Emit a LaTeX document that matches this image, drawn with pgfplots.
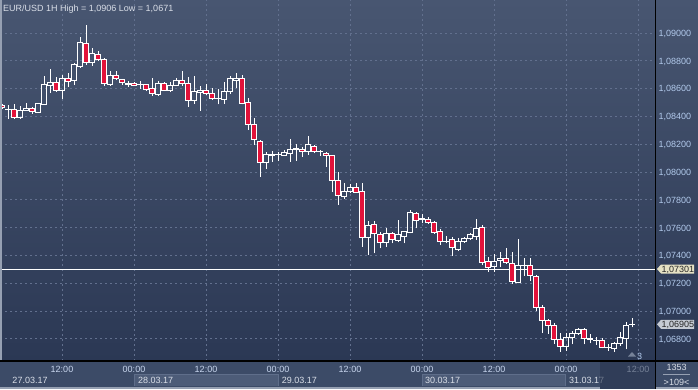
\documentclass[border=0pt]{standalone}
\usepackage{fontspec}
\setmainfont{Liberation Sans}
\usepackage{pgfplots}
\usepackage{pgfplotstable}
\pgfplotsset{compat=1.18}
\definecolor{bgtop}{RGB}{72,86,113}
\definecolor{bgbot}{RGB}{43,56,84}
\definecolor{gridc}{RGB}{98,112,142}
\definecolor{candlered}{RGB}{226,18,58}
\definecolor{panel}{RGB}{60,75,103}
\definecolor{datebox}{RGB}{77,92,120}
\definecolor{dateborder}{RGB}{95,110,138}
\definecolor{pricec}{RGB}{178,202,236}
\definecolor{timec}{RGB}{200,214,238}
\definecolor{timedim}{RGB}{118,130,152}
\definecolor{textc}{RGB}{218,223,232}
\definecolor{strip}{RGB}{150,160,178}
\definecolor{darkreg}{RGB}{40,52,78}
\definecolor{lastbox}{RGB}{198,203,212}
\definecolor{linebox}{RGB}{230,226,196}
\newcommand\nf{\fontsize{9pt}{10.8pt}\selectfont}

\pgfplotstableread{
h o hi lo c
2 1.08482 1.08490 1.08454 1.08461
3 1.08450 1.08482 1.08380 1.08452
4 1.08451 1.08490 1.08388 1.08391
5 1.08391 1.08475 1.08387 1.08446
6 1.08444 1.08495 1.08441 1.08459
7 1.08459 1.08470 1.08418 1.08434
8 1.08430 1.08499 1.08427 1.08495
9 1.08487 1.08691 1.08482 1.08631
10 1.08626 1.08739 1.08571 1.08643
11 1.08646 1.08686 1.08578 1.08585
12 1.08585 1.08698 1.08523 1.08674
13 1.08674 1.08710 1.08614 1.08650
14 1.08657 1.08782 1.08626 1.08770
15 1.08758 1.08969 1.08753 1.08933
16 1.08926 1.09058 1.08770 1.08787
17 1.08787 1.08890 1.08763 1.08854
18 1.08847 1.08871 1.08799 1.08811
19 1.08811 1.08820 1.08619 1.08637
20 1.08633 1.08727 1.08619 1.08692
21 1.08691 1.08727 1.08662 1.08674
22 1.08669 1.08672 1.08626 1.08646
23 1.08633 1.08657 1.08610 1.08634
24 1.08638 1.08648 1.08619 1.08624
25 1.08630 1.08657 1.08597 1.08631
26 1.08631 1.08633 1.08583 1.08595
27 1.08602 1.08676 1.08547 1.08563
28 1.08561 1.08653 1.08547 1.08638
29 1.08638 1.08646 1.08583 1.08588
30 1.08590 1.08650 1.08578 1.08626
31 1.08626 1.08679 1.08619 1.08662
32 1.08662 1.08729 1.08619 1.08638
33 1.08638 1.08684 1.08470 1.08518
34 1.08513 1.08691 1.08490 1.08579
35 1.08573 1.08619 1.08441 1.08590
36 1.08590 1.08631 1.08554 1.08566
37 1.08566 1.08602 1.08518 1.08530
38 1.08528 1.08594 1.08486 1.08530
39 1.08523 1.08648 1.08490 1.08579
40 1.08579 1.08694 1.08565 1.08673
41 1.08655 1.08712 1.08605 1.08673
42 1.08673 1.08698 1.08487 1.08495
43 1.08502 1.08530 1.08303 1.08339
44 1.08344 1.08387 1.08195 1.08231
45 1.08218 1.08231 1.07967 1.08070
46 1.08070 1.08146 1.08022 1.08123
47 1.08121 1.08151 1.08075 1.08123
48 1.08123 1.08146 1.08082 1.08125
49 1.08121 1.08159 1.08116 1.08139
50 1.08135 1.08238 1.08075 1.08159
51 1.08159 1.08202 1.08082 1.08171
52 1.08164 1.08182 1.08111 1.08149
53 1.08151 1.08259 1.08123 1.08195
54 1.08187 1.08195 1.08135 1.08151
55 1.08146 1.08159 1.08118 1.08148
56 1.08135 1.08146 1.08039 1.08121
57 1.08121 1.08123 1.07859 1.07938
58 1.07938 1.08003 1.07764 1.07833
59 1.07828 1.07924 1.07806 1.07864
60 1.07859 1.07914 1.07852 1.07891
61 1.07891 1.07919 1.07848 1.07855
62 1.07859 1.07919 1.07464 1.07531
63 1.07531 1.07648 1.07404 1.07615
64 1.07620 1.07648 1.07416 1.07555
65 1.07548 1.07571 1.07452 1.07495
66 1.07495 1.07600 1.07464 1.07555
67 1.07555 1.07567 1.07488 1.07512
68 1.07507 1.07656 1.07495 1.07548
69 1.07540 1.07576 1.07488 1.07571
70 1.07567 1.07727 1.07560 1.07708
71 1.07704 1.07711 1.07596 1.07651
72 1.07661 1.07696 1.07632 1.07663
73 1.07660 1.07675 1.07627 1.07639
74 1.07639 1.07651 1.07560 1.07564
75 1.07571 1.07591 1.07476 1.07499
76 1.07503 1.07540 1.07488 1.07504
77 1.07512 1.07535 1.07399 1.07456
78 1.07445 1.07524 1.07435 1.07504
79 1.07499 1.07531 1.07495 1.07524
80 1.07519 1.07564 1.07512 1.07548
81 1.07535 1.07663 1.07512 1.07596
82 1.07603 1.07620 1.07332 1.07348
83 1.07356 1.07392 1.07284 1.07313
84 1.07320 1.07409 1.07284 1.07356
85 1.07363 1.07428 1.07315 1.07380
86 1.07380 1.07452 1.07344 1.07348
87 1.07344 1.07428 1.07195 1.07212
88 1.07208 1.07519 1.07200 1.07327
89 1.07325 1.07380 1.07253 1.07327
90 1.07327 1.07380 1.07219 1.07253
91 1.07248 1.07260 1.07001 1.07025
92 1.07026 1.07044 1.06843 1.06934
93 1.06931 1.06941 1.06836 1.06895
94 1.06895 1.06913 1.06764 1.06798
95 1.06798 1.06841 1.06709 1.06744
96 1.06744 1.06841 1.06716 1.06812
97 1.06812 1.06860 1.06762 1.06836
98 1.06836 1.06877 1.06829 1.06870
99 1.06870 1.06877 1.06762 1.06805
100 1.06798 1.06836 1.06769 1.06800
101 1.06786 1.06816 1.06757 1.06788
102 1.06786 1.06805 1.06733 1.06740
103 1.06739 1.06764 1.06716 1.06740
104 1.06733 1.06781 1.06709 1.06764
105 1.06764 1.06852 1.06749 1.06812
106 1.06805 1.06924 1.06726 1.06900
107 1.06903 1.06948 1.06884 1.06905
}\candles

\pgfplotsset{
  wick/.style={white, line width=1pt, forget plot},
  bull/.style={draw=white, fill=none, line width=1pt, solid, forget plot},
  bear/.style={draw=white, fill=candlered, line width=1pt, solid, forget plot},
}

\begin{document}
\begin{tikzpicture}
\useasboundingbox (0pt,0pt) rectangle (698pt,389pt);
\pgfplotstablegetrowsof{\candles}
\pgfmathtruncatemacro{\lastrow}{\pgfplotsretval-1}
\begin{scope}[x=1pt,y=1pt]
  \fill[panel] (0,0) rectangle (698,28);
  \shade[top color=bgtop,bottom color=bgbot] (655,28) rectangle (698,389);
  \fill[datebox] (134,3) rectangle (278,15);
  \draw[dateborder,line width=0.8pt] (134,3) -- (134,15) -- (278,15) -- (278,3);
  \fill[datebox] (422,3) rectangle (565,15);
  \draw[dateborder,line width=0.8pt] (422,3) -- (422,15) -- (565,15) -- (565,3);
  \node[anchor=base west,inner sep=0pt,text=textc,font=\nf] at (12.3,5.7) {27.03.17};
  \node[anchor=base west,inner sep=0pt,text=textc,font=\nf] at (138,5.7) {28.03.17};
  \node[anchor=base west,inner sep=0pt,text=textc,font=\nf] at (281.7,5.7) {29.03.17};
  \node[anchor=base west,inner sep=0pt,text=textc,font=\nf] at (425,5.7) {30.03.17};
  \node[anchor=base west,inner sep=0pt,text=textc,font=\nf] at (569,5.7) {31.03.17};
  \fill[darkreg,opacity=0.6] (600,0) rectangle (655,27.5);
  \fill[strip] (0,0) rectangle (600,2.5);
\end{scope}
\begin{axis}[
  at={(0pt,28pt)}, anchor=south west,
  scale only axis, width=655pt, height=361pt,
  xmin=1.6667, xmax=110.8333,
  ymin=1.066417, ymax=1.092373,
  axis background/.style={shade, top color=bgtop, bottom color=bgbot},
  axis line style={draw=none},
  major tick length=0pt, tick style={draw=none},
  grid=major,
  major grid style={gridc, dash pattern=on 2pt off 3pt, line width=1pt},
  xtick={12,24,36,48,60,72,84,96,108},
  xticklabels={12:00,00:00,12:00,00:00,12:00,00:00,12:00,00:00,\textcolor{timedim}{12:00}},
  xticklabel style={anchor=base, inner sep=0pt, yshift=-11.3pt, text=timec, font=\nf},
  ytick={1.068,1.07,1.072,1.074,1.076,1.078,1.08,1.082,1.084,1.086,1.088,1.09},
  ytick pos=right, yticklabel pos=right,
  yticklabel style={anchor=base west, inner sep=0pt, xshift=3.3pt, yshift=-3.3pt, text=pricec, font=\nf},
  /pgf/number format/fixed, /pgf/number format/fixed zerofill,
  /pgf/number format/precision=5, /pgf/number format/use comma,
  /pgf/number format/assume math mode=true,
  scaled y ticks=false,
]
\addplot[white, line width=1pt, forget plot] coordinates {(1.6667,1.07301) (110.8333,1.07301)};
\pgfplotsforeachungrouped \i in {0,...,\lastrow}{%
  \pgfplotstablegetelem{\i}{h}\of\candles \let\cX\pgfplotsretval
  \pgfplotstablegetelem{\i}{o}\of\candles \let\cO\pgfplotsretval
  \pgfplotstablegetelem{\i}{hi}\of\candles \let\cH\pgfplotsretval
  \pgfplotstablegetelem{\i}{lo}\of\candles \let\cL\pgfplotsretval
  \pgfplotstablegetelem{\i}{c}\of\candles \let\cC\pgfplotsretval
  \ifdim\cC pt<\cO pt
    \def\cst{bear}\let\cbot\cC\let\ctop\cO
  \else
    \def\cst{bull}\let\cbot\cO\let\ctop\cC
  \fi
  \pgfmathsetmacro\xl{\cX-0.36}%
  \pgfmathsetmacro\xr{\cX+0.36}%
  \edef\doplot{%
    \noexpand\addplot[wick] coordinates {(\cX,\cL) (\cX,\cbot)};
    \noexpand\addplot[wick] coordinates {(\cX,\ctop) (\cX,\cH)};
    \noexpand\addplot[\cst] coordinates {(\xl,\cbot) (\xr,\cbot) (\xr,\ctop) (\xl,\ctop)} -- cycle;
  }%
  \doplot
}
\end{axis}
\begin{scope}[x=1pt,y=1pt]
  \fill[strip] (0,28) rectangle (1.5,389);
  \draw[black,line width=1.2pt] (0,28) -- (698,28);
  \draw[black,line width=1pt] (655,0) -- (655,389);
  \node[anchor=base west,inner sep=0pt,text=textc,font=\nf] at (3,377) {EUR/USD 1H High = 1,0906 Low = 1,0671};
  \fill[linebox] (657,120) -- (661,124.5) -- (694,124.5) -- (694,115.5) -- (661,115.5) -- cycle;
  \node[anchor=base west,inner sep=0pt,text=black!85,font=\nf] at (661.5,116.7) {1,07301};
  \fill[lastbox] (657,64.7) -- (661,69.2) -- (694,69.2) -- (694,60.2) -- (661,60.2) -- cycle;
  \node[anchor=base west,inner sep=0pt,text=black!85,font=\nf] at (661.5,61.4) {1,06905};
  \fill[timedim] (628,32.5) -- (636,32.5) -- (632,37) -- cycle;
  \node[anchor=base,inner sep=0pt,text=pricec,font=\nf] at (639.5,29.8) {3};
  \node[anchor=base,inner sep=0pt,text=textc,font=\nf] at (676.5,19) {1353};
  \draw[strip,line width=0.8pt] (663,15) -- (690,15);
  \node[anchor=base,inner sep=0pt,text=textc,font=\nf] at (676.5,4) {>109<};
  \fill[strip] (655.5,0) rectangle (698,2.5);
\end{scope}
\end{tikzpicture}
\end{document}
